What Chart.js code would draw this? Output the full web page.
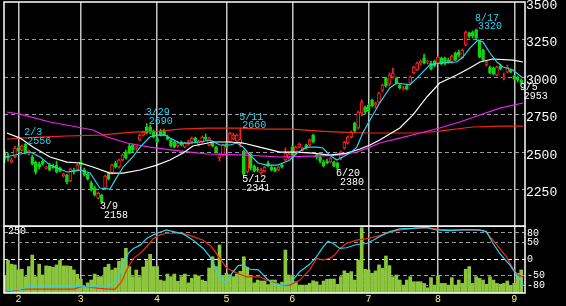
<!DOCTYPE html>
<html>
<head>
<meta charset="utf-8">
<script src="https://cdn.jsdelivr.net/npm/chart.js@4/dist/chart.umd.min.js"></script>
<style>
  body { margin: 0; background: #000; width: 566px; height: 306px; overflow: hidden; position: relative; }
  canvas { position: absolute; left: 0; }
  #price { top: 0; }
  #osc { top: 226px; }
</style>
</head>
<body>
<canvas id="price" width="566" height="227"></canvas>
<canvas id="osc" width="566" height="80"></canvas>
<script>
// trading days, one per candle
const dates = [
  '1/26','1/27','1/28','1/31',
  '2/1','2/2','2/3','2/4','2/7','2/8','2/9','2/10','2/14','2/15','2/16','2/17','2/18','2/21','2/22','2/24','2/25','2/28',
  '3/1','3/2','3/3','3/4','3/7','3/8','3/9','3/10','3/11','3/14','3/15','3/16','3/17','3/18','3/22','3/23','3/24','3/25','3/28','3/29','3/30','3/31',
  '4/1','4/4','4/5','4/6','4/7','4/8','4/11','4/12','4/13','4/14','4/15','4/18','4/19','4/20','4/21','4/22','4/25','4/26','4/27','4/28',
  '5/2','5/6','5/9','5/10','5/11','5/12','5/13','5/16','5/17','5/18','5/19','5/20','5/23','5/24','5/25','5/26','5/27','5/30','5/31',
  '6/1','6/2','6/3','6/6','6/7','6/8','6/9','6/10','6/13','6/14','6/15','6/16','6/17','6/20','6/21','6/22','6/23','6/24','6/27','6/28','6/29','6/30',
  '7/1','7/4','7/5','7/6','7/7','7/8','7/11','7/12','7/13','7/14','7/15','7/19','7/20','7/21','7/22','7/25','7/26','7/27','7/28','7/29',
  '8/1','8/2','8/3','8/4','8/5','8/8','8/9','8/10','8/12','8/15','8/16','8/17','8/18','8/19','8/22','8/23','8/24','8/25','8/26','8/29','8/30','8/31',
  '9/1','9/2','9/5'
];

const open = [
  2493,2473,2433,2467,2527,2513,2553,2493,2467,2433,
  2420,2440,2393,2413,2407,2413,2393,2340,2347,2307,
  2380,2380,2433,2380,2353,2293,2260,2193,2213,2260,
  2360,2360,2427,2400,2447,2500,2540,2547,2527,2580,
  2613,2667,2667,2633,2590,2640,2647,2600,2580,2567,
  2540,2567,2533,2553,2567,2593,2547,2567,2600,2547,
  2567,2533,2460,2480,2553,2567,2587,2573,2560,2507,
  2367,2487,2407,2387,2360,2373,2427,2400,2393,2380,
  2413,2447,2460,2533,2487,2533,2513,2547,2547,2613,
  2480,2467,2433,2440,2433,2433,2427,2460,2527,2560,
  2600,2693,2660,2760,2800,2813,2847,2813,2833,2913,
  2993,2953,3000,2993,2947,2920,2940,2960,3027,3047,
  3093,3127,3100,3093,3107,3093,3127,3127,3113,3100,
  3160,3167,3127,3213,3293,3300,3313,3240,3180,3080,
  3067,3060,3013,3073,2993,3033,3047,3007,3000,2980
];
const high = [
  2513,2493,2460,2540,2540,2547,2556,2513,2480,2440,
  2433,2447,2407,2427,2420,2440,2400,2360,2353,2393,
  2393,2420,2447,2393,2360,2307,2273,2233,2220,2347,
  2367,2420,2440,2453,2487,2513,2553,2553,2540,2620,
  2640,2690,2680,2647,2600,2653,2653,2613,2587,2573,
  2567,2573,2567,2580,2600,2600,2580,2607,2620,2600,
  2573,2540,2493,2553,2567,2633,2627,2620,2660,2513,
  2500,2493,2413,2400,2393,2407,2440,2413,2400,2407,
  2427,2527,2500,2540,2540,2560,2533,2553,2587,2620,
  2487,2473,2447,2453,2467,2440,2433,2507,2573,2607,
  2640,2700,2773,2847,2807,2820,2853,2833,2900,2953,
  3000,3027,3060,3000,2953,2940,2953,3007,3073,3100,
  3113,3153,3113,3107,3113,3140,3133,3133,3127,3147,
  3167,3180,3187,3307,3300,3307,3320,3247,3187,3107,
  3073,3067,3073,3087,3027,3080,3053,3013,3007,2987
];
const low = [
  2427,2440,2427,2460,2500,2505,2487,2480,2413,2353,
  2387,2413,2387,2373,2390,2360,2367,2333,2287,2300,
  2353,2373,2407,2340,2313,2240,2207,2187,2158,2247,
  2313,2353,2393,2393,2440,2453,2487,2500,2513,2573,
  2607,2620,2620,2593,2560,2607,2607,2580,2533,2527,
  2533,2540,2527,2547,2560,2567,2540,2560,2580,2540,
  2533,2493,2440,2473,2527,2560,2580,2560,2533,2341,
  2360,2380,2367,2367,2353,2367,2400,2373,2367,2373,
  2393,2440,2453,2473,2480,2527,2507,2520,2540,2560,
  2453,2427,2400,2420,2427,2400,2380,2447,2520,2553,
  2593,2633,2653,2740,2753,2767,2800,2793,2827,2900,
  2933,2940,2993,2953,2920,2913,2913,2953,3020,3040,
  3080,3087,3087,3047,3067,3087,3080,3080,3093,3093,
  3107,3133,3120,3207,3260,3260,3253,3127,3107,3073,
  3020,3013,3007,3047,2980,3027,3027,2980,2967,2953
];
const close = [
  2453,2460,2447,2527,2507,2540,2493,2507,2420,2367,
  2400,2420,2400,2380,2395,2367,2373,2355,2300,2387,
  2367,2413,2413,2347,2320,2247,2213,2227,2167,2340,
  2320,2413,2400,2447,2480,2460,2493,2513,2533,2613,
  2633,2627,2633,2600,2567,2613,2613,2587,2540,2533,
  2560,2547,2560,2567,2593,2573,2573,2600,2587,2593,
  2540,2500,2487,2547,2533,2627,2613,2613,2587,2353,
  2493,2393,2373,2380,2380,2400,2407,2380,2373,2400,
  2400,2493,2487,2480,2533,2553,2527,2527,2580,2567,
  2467,2440,2407,2427,2460,2407,2393,2500,2567,2600,
  2633,2640,2767,2833,2767,2773,2807,2827,2893,2947,
  2940,3013,3027,2960,2927,2927,2920,3000,3067,3093,
  3107,3093,3107,3053,3073,3133,3087,3093,3100,3140,
  3113,3147,3180,3300,3273,3273,3260,3133,3113,3100,
  3027,3020,3067,3053,3000,3067,3033,2987,2980,2960
];
const volume = [
  71,137,120,117,96,99,68,110,158,68,
  120,75,113,111,107,117,137,113,113,111,
  96,78,58,28,42,54,79,68,68,107,
  120,96,104,132,144,186,110,68,96,68,
  108,135,161,110,110,54,50,79,68,79,
  49,68,79,42,61,76,71,54,49,104,
  151,110,200,71,83,76,68,79,90,151,
  107,68,42,54,50,50,35,54,54,35,
  45,179,75,68,47,33,33,33,40,51,
  47,33,50,57,58,58,36,68,92,82,
  89,54,137,272,99,96,82,92,117,103,
  154,114,68,75,54,33,54,68,47,47,
  47,40,22,64,33,71,40,40,33,64,
  33,54,40,99,110,40,68,61,54,36,
  68,54,40,36,40,50,31,40,82,96
];

// moving averages at candle positions
const maShortX = [0.2,7.4,10.3,13.1,18,21.8,24.7,27.5,30.4,32.4,34.2,37,39.1,41.9,43.9,46.3,47.7,50.6,53.5,56.4,59.2,62.1,65,67,68.8,70.8,73.1,75.7,78.6,80.3,82.3,84.3,87.2,90.1,91.8,93.8,95.8,97.6,99.6,101.6,103.3,105.4,108.2,111.1,113.1,116.9,118.9,120.6,122.6,125.5,130.4,132.2,134.2,136.5,138,140,142,143.7,146.6,149.5];
const maShortY = [2467,2500,2467,2413,2367,2380,2360,2260,2253,2333,2400,2467,2533,2600,2613,2613,2593,2560,2560,2567,2580,2547,2547,2560,2533,2480,2427,2413,2413,2427,2447,2493,2533,2533,2527,2480,2447,2467,2493,2533,2627,2713,2827,2927,2960,2947,2993,3033,3080,3093,3100,3133,3193,3247,3233,3160,3100,3067,3047,2993];
const maMidX = [0.7,4.5,8.2,13.1,18,21.8,25.5,30.4,34.2,39.1,43.9,47.7,51.5,54.3,60.1,65,68.8,73.6,79.4,84.3,88.9,93.8,98.7,102.5,105.4,108.2,114,117.8,121.8,125.5,130.4,134.2,137.1,140.8,146.6,149.5];
const maMidY = [2627,2593,2533,2467,2433,2427,2400,2360,2360,2380,2413,2447,2493,2540,2567,2567,2560,2533,2500,2500,2493,2480,2493,2520,2547,2580,2660,2747,2867,2960,3013,3060,3100,3120,3113,3100];
const maLongX = [0.7,4.5,13.1,20.9,25.5,29.6,35.3,41.9,48.6,53.5,58.4,69.9,79.4,88.9,96.7,101.6,105.4,108.2,114,119.8,125.5,131.3,137.1,142.8,149.5];
const maLongY = [2767,2753,2700,2667,2647,2600,2560,2533,2513,2500,2487,2480,2467,2473,2480,2500,2533,2560,2593,2627,2660,2700,2747,2793,2827];
const maRedX = [0.7,10.2,18,27.5,37,44.8,50.6,58.4,67.9,75.7,83.2,90.9,96.7,104.5,118.9,125.5,135,142.8,149.5];
const maRedY = [2587,2600,2607,2613,2633,2640,2653,2660,2660,2653,2653,2640,2633,2627,2627,2640,2667,2673,2673];

// oscillator (lower panel)
const oscCyanX = [0.6,4.5,7.4,13,19.9,21.8,28.5,31.4,32.8,34.3,35.7,37.2,39.1,41,42.9,44.8,46.7,48.7,51.5,54.4,57.3,59.2,61.2,62.6,64.1,65.5,67.4,68.9,70.8,73.2,75.6,77.5,79.9,82.3,85.2,88,90,91.9,93.3,94.8,96.7,98.6,101.5,104.4,106.3,108.2,111.1,114,117.8,121.6,124.5,128.4,132.2,137,139,140.9,142.8,145.7,148.1,149.5];
const oscCyanY = [-96,-90,-81,-81,-81,-83,-83,-73,-53,-17,18,33,43,63,74,82,89,84,77,58,33,8,-32,-63,-73,-43,-19,-17,-30,-32,-58,-73,-78,-73,-37,-15,8,38,55,48,33,35,45,48,58,69,84,92,94,97,89,87,89,89,84,48,18,-17,-53,-78];
const oscRedX = [0.6,5.4,8.3,19.9,22.7,25.6,29.5,31.9,33.8,35.2,37.2,39.1,41,42.9,44.8,46.7,51.5,54.4,57.3,59.7,62.1,64.1,66.9,69.8,73.7,75.6,78.5,80.4,82.3,85.2,88,90,91.9,93.8,95.2,96.7,98.6,101.5,104.4,107.2,110.1,114,117.8,121.6,125.5,129.3,135.1,138.4,140.9,142.8,144.7,146.6,148.1,149.5];
const oscRedY = [-98,-90,-90,-90,-81,-86,-90,-90,-68,-32,3,18,38,63,74,79,79,69,58,38,3,-27,-41,-53,-53,-63,-73,-78,-78,-63,-32,3,-2,3,13,33,48,58,63,69,79,89,94,96,91,89,89,86,58,33,8,-27,-48,-53];

const priceTicks = [2250, 2500, 2750, 3000, 3250, 3500];
const oscTicks = [80, 50, 0, -50, -80];
const volTicks = [250];

// marked highs and lows
const markIndex = [6, 28, 41, 68, 69, 96, 136, 149];
const markKind = ['high', 'low', 'high', 'high', 'low', 'low', 'high', 'low'];

// month starts from the dates
const monthTicks = [];
const monthLabels = [];
dates.forEach((d, i) => {
  const m = d.split('/')[0];
  if (i > 0 && m !== dates[i - 1].split('/')[0]) {
    monthTicks.push(i);
    monthLabels.push(m);
  }
});

const RED = '#ff2424';
const GREEN = '#12d412';
const CYAN = '#2ad4f0';
const idx = dates.map((d, i) => i);
const pts = (xs, ys) => xs.map((x, k) => ({ x: x, y: ys[k] }));
const isUp = i => close[i] >= open[i];

const frame = {
  id: 'frame',
  afterDraw(chart) {
    const { ctx, chartArea: a } = chart;
    ctx.save();
    ctx.strokeStyle = '#ffffff';
    ctx.lineWidth = 1.5;
    ctx.strokeRect(a.left, a.top, a.right - a.left, a.bottom - a.top);
    ctx.restore();
  }
};

const markLabels = {
  id: 'markLabels',
  afterDraw(chart) {
    const ctx = chart.ctx;
    const xs = chart.scales.x;
    const ys = chart.scales.y;
    ctx.save();
    ctx.font = '10px "Liberation Mono"';
    ctx.textBaseline = 'middle';
    ctx.textAlign = 'left';
    markIndex.forEach((i, k) => {
      const x = xs.getPixelForValue(i);
      if (markKind[k] === 'high') {
        const y = ys.getPixelForValue(high[i]);
        ctx.fillStyle = CYAN;
        ctx.fillText(dates[i], x - 1, y - 11);
        ctx.fillText(String(high[i]), x + 2, y - 2.5);
      } else {
        const y = ys.getPixelForValue(low[i]);
        ctx.fillStyle = '#ffffff';
        ctx.fillText(dates[i], x - 1.5, y + 3);
        ctx.fillText(String(low[i]), x + 2.5, y + 12);
      }
    });
    ctx.restore();
  }
};

const xScale = (showLabels) => ({
  type: 'linear',
  min: -0.15,
  max: 150.1,
  offset: false,
  afterBuildTicks: s => { s.ticks = monthTicks.map(v => ({ value: v })); },
  ticks: {
    display: showLabels,
    autoSkip: false,
    maxRotation: 0,
    padding: 0,
    color: '#f4f46a',
    font: { family: 'Liberation Mono', size: 10 },
    callback: (v, k) => monthLabels[k]
  },
  grid: { offset: false, color: '#c4c4c4', lineWidth: 1.5, drawTicks: false },
  border: { display: false },
  afterFit: s => { s.height = showLabels ? 13 : 0; s.paddingLeft = 0; s.paddingRight = 0; }
});

// price panel
new Chart(document.getElementById('price'), {
  type: 'bar',
  data: {
    datasets: [
      { type: 'line', data: pts(maShortX, maShortY), borderColor: CYAN, borderWidth: 1.2, pointRadius: 0, order: 0 },
      { type: 'line', data: pts(maMidX, maMidY), borderColor: '#ffffff', borderWidth: 1.2, pointRadius: 0, order: 0 },
      { type: 'line', data: pts(maLongX, maLongY), borderColor: '#f020f0', borderWidth: 1.2, pointRadius: 0, order: 0 },
      { type: 'line', data: pts(maRedX, maRedY), borderColor: '#f02a10', borderWidth: 1.2, pointRadius: 0, order: 0 },
      {
        data: idx.map(i => ({ x: i, y: [low[i], high[i]] })),
        backgroundColor: c => isUp(c.dataIndex) ? RED : GREEN,
        barThickness: 1, grouped: false, order: 3
      },
      {
        data: idx.map(i => ({ x: i, y: [open[i], close[i]] })),
        backgroundColor: c => isUp(c.dataIndex) ? '#000000' : GREEN,
        borderColor: c => isUp(c.dataIndex) ? RED : GREEN,
        borderWidth: 1, borderSkipped: false, minBarLength: 1,
        barThickness: 3, grouped: false, order: 2
      }
    ]
  },
  options: {
    animation: false, responsive: false, devicePixelRatio: 1,
    layout: { padding: { left: 4, top: 2, right: 0, bottom: 1 } },
    plugins: { legend: { display: false }, tooltip: { enabled: false } },
    scales: {
      x: xScale(false),
      y: {
        position: 'right', min: 2007, max: 3500,
        afterBuildTicks: s => { s.ticks = priceTicks.map(v => ({ value: v })); },
        ticks: { color: '#ffffff', font: { family: 'Liberation Mono', size: 13 }, padding: 1, labelOffset: 3.5, autoSkip: false, callback: v => String(v) },
        grid: { color: c => c.tick.value === 3500 ? 'rgba(0,0,0,0)' : '#9a9a9a', lineWidth: 1, drawTicks: false },
        border: { display: false, dash: [4, 3] },
        afterFit: s => { s.width = 41; s.paddingTop = 0; s.paddingBottom = 0; }
      }
    }
  },
  plugins: [frame, markLabels]
});

// volume + oscillator panel
new Chart(document.getElementById('osc'), {
  type: 'bar',
  data: {
    datasets: [
      { type: 'line', data: pts(oscCyanX, oscCyanY), yAxisID: 'yo', borderColor: CYAN, borderWidth: 1.2, pointRadius: 0, order: 0 },
      { type: 'line', data: pts(oscRedX, oscRedY), yAxisID: 'yo', borderColor: '#f02a10', borderWidth: 1.2, pointRadius: 0, order: 1 },
      {
        data: idx.map(i => ({ x: i, y: volume[i] })), yAxisID: 'yv',
        backgroundColor: '#8cc63c', barThickness: 3, grouped: false, order: 2
      }
    ]
  },
  options: {
    animation: false, responsive: false, devicePixelRatio: 1,
    layout: { padding: { left: 4, top: 0, right: 0, bottom: 0 } },
    plugins: { legend: { display: false }, tooltip: { enabled: false } },
    scales: {
      x: xScale(true),
      yv: {
        position: 'left', min: 0, max: 279,
        afterBuildTicks: s => { s.ticks = volTicks.map(v => ({ value: v })); },
        ticks: { mirror: true, color: '#ffffff', font: { family: 'Liberation Mono', size: 10 }, padding: 4, labelOffset: -2, callback: v => String(v) },
        grid: { display: false },
        border: { display: false },
        afterFit: s => { s.width = 0; s.paddingTop = 0; s.paddingBottom = 0; }
      },
      yo: {
        position: 'right', min: -102, max: 101,
        afterBuildTicks: s => { s.ticks = oscTicks.map(v => ({ value: v })); },
        ticks: { color: '#ffffff', font: { family: 'Liberation Mono', size: 10 }, padding: 2, autoSkip: false, callback: v => String(v) },
        grid: { color: c => c.tick.value === 0 ? '#ffffff' : '#9a9a9a', lineWidth: 1, drawTicks: false },
        border: { display: false, dash: [4, 3] },
        afterFit: s => { s.width = 41; s.paddingTop = 0; s.paddingBottom = 0; }
      }
    }
  },
  plugins: [frame]
});
</script>
</body>
</html>
